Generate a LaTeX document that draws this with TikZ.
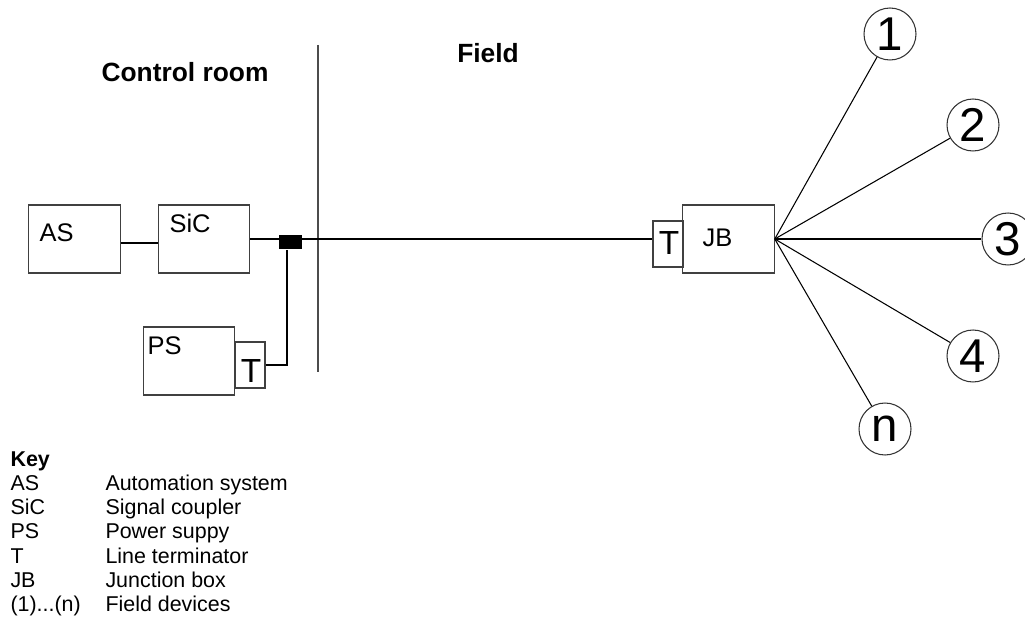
\documentclass[tikz,border=0pt]{standalone}
\usepackage{fontspec}
\setmainfont{Liberation Sans}
\usetikzlibrary{positioning}

\begin{document}
\begin{tikzpicture}[x=0.02cm, y=-0.02cm, line width=0.6pt,
  box/.style={draw=black!75, minimum width=1.83cm, minimum height=1.36cm, inner sep=0},
  term/.style={draw=black!75, minimum width=0.6cm, minimum height=0.92cm, inner sep=0},
  junc/.style={fill=black, minimum width=0.46cm, minimum height=0.28cm, inner sep=0},
  dev/.style={circle, draw=black!80, minimum size=1.04cm, inner sep=0, font=\fontsize{27}{30}\selectfont},
  lbl/.style={anchor=base west, inner sep=0, font=\fontsize{14.5}{17}\selectfont},
  tlbl/.style={anchor=base, inner sep=0, font=\fontsize{19}{22}\selectfont},
  ttl/.style={anchor=base, inner sep=0, font=\bfseries\fontsize{15}{18}\selectfont},
  keytxt/.style={anchor=base west, inner sep=0, font=\fontsize{12.2}{14}\selectfont}]
\useasboundingbox (0,0) rectangle (1025,618);

% titles and room divider
\node[ttl] (ctrl) at (185,82) {Control room};
\node[ttl] (fld) at (488,63) {Field};
\draw[black!70] (318,45) -- (318,372);

% control room units
\node[box] (as)  at (74.5,239) {};
\node[box] (sic) at (204,239) {};
\node[box] (ps)  at (189,361) {};
\node[term] (tps) at (250,365) {};
\node[lbl] (aslbl)  at (39,242)  {AS};
\node[lbl] (siclbl) at (169,233) {SiC};
\node[lbl] (pslbl)  at (147,355) {PS};
\node[tlbl] (tpslbl) at (251,382) {T};

% field side
\node[box] (jb)  at (728.5,239) {};
\node[term] (tjb) at (668,244) {};
\node[lbl] (jblbl)  at (702,247) {JB};
\node[tlbl] (tjblbl) at (669,255) {T};

% field devices
\node[dev] (d1) at (890,34)   {1};
\node[dev] (d2) at (973,125)  {2};
\node[dev] (d3) at (1008,239) {3};
\node[dev] (d4) at (973,356)  {4};
\node[dev] (dn) at (885,429)  {n};

% bus
\draw ([yshift=-0.08cm]as.east) -- ([yshift=-0.08cm]sic.west);
\draw (sic.east) -- (sic.east -| tjb.west);
\node[junc] (jn) at (290.5,242) {};
\draw (tps.east) -| ([xshift=-0.07cm]jn.south);
\foreach \d in {d1,d2,d3,d4,dn}
  \draw (jb.east) -- (\d);

% key
\node[keytxt, font=\bfseries\fontsize{12.2}{14}\selectfont] (key) at (10,466) {Key};
\foreach \k/\t [count=\i] in {AS/Automation system, SiC/Signal coupler,
    PS/Power suppy, T/Line terminator, JB/Junction box}{
  \node[keytxt] (k\i) at (10,466+24.3*\i) {\k};
  \node[keytxt] (t\i) at (105,466+24.3*\i) {\t};
}
\node[keytxt] (k6) at (10,611.8) {(1).{}.{}.(n)};
\node[keytxt] (t6) at (105,611.8) {Field devices};
\end{tikzpicture}
\end{document}
